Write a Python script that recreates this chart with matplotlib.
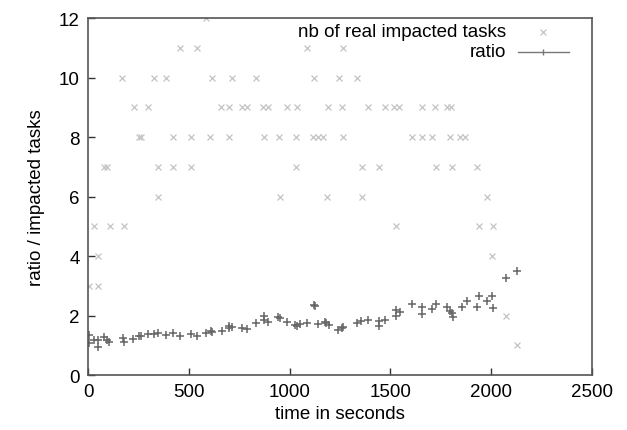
import matplotlib
matplotlib.use('Agg')
import matplotlib.pyplot as plt
from matplotlib.lines import Line2D

plt.rcParams['font.family'] = ['Liberation Sans', 'DejaVu Sans']

# nb of real impacted tasks (x marks)
tasks_t = [585,
           456, 540, 1087, 1264,
           170, 328, 385, 614, 716, 831, 1121, 1245, 1333,
           227, 298, 660, 700, 766, 787, 870, 893, 985, 1037, 1192, 1258, 1390, 1474, 1520, 1543, 1657, 1721, 1779, 1800,
           253, 263, 421, 510, 603, 700, 873, 945, 1030, 1116, 1141, 1166, 1264, 1607, 1657, 1706, 1796, 1845, 1870,
           78, 94, 347, 421, 510, 1030, 1358, 1443, 1726, 1806, 1929,
           347, 953, 1185, 1358, 1979,
           31, 107, 180, 1526, 1937, 2010,
           48, 2003,
           7, 48,
           2073,
           2128]
tasks_v = [12,
           11, 11, 11, 11,
           10, 10, 10, 10, 10, 10, 10, 10, 10,
           9, 9, 9, 9, 9, 9, 9, 9, 9, 9, 9, 9, 9, 9, 9, 9, 9, 9, 9, 9,
           8, 8, 8, 8, 8, 8, 8, 8, 8, 8, 8, 8, 8, 8, 8, 8, 8, 8, 8,
           7, 7, 7, 7, 7, 7, 7, 7, 7, 7, 7,
           6, 6, 6, 6, 6,
           5, 5, 5, 5, 5, 5,
           4, 4,
           3, 3,
           2,
           1]

# ratio (+ marks)
ratio_t = [7, 7, 31, 48, 48, 81, 96, 106, 172, 180, 225, 255, 263, 299, 329, 349, 385, 420,
           456, 509, 539, 584, 609, 617, 663, 701, 701, 716, 762, 787, 832, 875, 875, 895,
           944, 950, 989, 1027, 1035, 1052, 1088, 1121, 1125, 1143, 1176, 1180, 1195, 1238,
           1258, 1263, 1333, 1354, 1391, 1443, 1443, 1473, 1526, 1526, 1548, 1609, 1659,
           1659, 1705, 1725, 1779, 1796, 1804, 1808, 1853, 1878, 1928, 1940, 1981, 2006,
           2011, 2072, 2126]
ratio_v = [1.34, 1.08, 1.19, 1.17, 0.95, 1.29, 1.19, 1.10, 1.23, 1.12, 1.21, 1.32, 1.32, 1.38,
           1.37, 1.42, 1.36, 1.42, 1.30, 1.39, 1.32, 1.41, 1.48, 1.45, 1.49, 1.66, 1.59, 1.62,
           1.59, 1.55, 1.75, 1.97, 1.86, 1.77, 1.94, 1.91, 1.77, 1.68, 1.66, 1.70, 1.74, 2.35,
           2.33, 1.70, 1.79, 1.75, 1.68, 1.52, 1.57, 1.60, 1.74, 1.83, 1.84, 1.81, 1.66, 1.84,
           2.20, 2.00, 2.12, 2.39, 2.27, 2.04, 2.21, 2.39, 2.30, 2.16, 2.09, 1.96, 2.30, 2.48,
           2.30, 2.67, 2.49, 2.64, 2.25, 3.25, 3.49]

x_ticks = [0, 500, 1000, 1500, 2000, 2500]
y_ticks = [0, 2, 4, 6, 8, 10, 12]

light = '#c4c4c4'
dark = '#666666'
fs = 13.5

fig = plt.figure(figsize=(6.27, 4.31), dpi=100)
ax = fig.add_axes([0.1404, 0.1276, 0.8038, 0.8283])

ax.plot(tasks_t, tasks_v, linestyle='none', marker='x', markersize=4.2,
        markeredgewidth=0.9, color=light)
ax.plot(ratio_t, ratio_v, linestyle='none', marker='+', markersize=6,
        markeredgewidth=1.1, color=dark)

ax.set_xlim(0, 2500)
ax.set_ylim(0, 12)
ax.set_xticks(x_ticks)
ax.set_yticks(y_ticks)
ax.tick_params(direction='in', length=5, width=1, labelsize=fs, pad=6,
               colors='#333333', labelcolor='black')
ax.tick_params(axis='y', pad=6)
for s in ax.spines.values():
    s.set_color('#555555')
    s.set_linewidth(1.2)

ax.set_xlabel('time in seconds', fontsize=fs, labelpad=3)
ax.set_ylabel('ratio / impacted tasks', fontsize=fs, labelpad=10)

# gnuplot style key, text right aligned
ax.text(0.829, 0.961, 'nb of real impacted tasks', transform=ax.transAxes,
        ha='right', va='center', fontsize=fs)
ax.text(0.829, 0.905, 'ratio', transform=ax.transAxes,
        ha='right', va='center', fontsize=fs)
ax.add_line(Line2D([0.903], [0.961], transform=ax.transAxes, linestyle='none',
                   marker='x', markersize=4.2, markeredgewidth=0.9, color=light))
ax.add_line(Line2D([0.853, 0.954], [0.905, 0.905], transform=ax.transAxes,
                   color='#777777', linewidth=1))
ax.add_line(Line2D([0.903], [0.905], transform=ax.transAxes, linestyle='none',
                   marker='|', markersize=4, markeredgewidth=1, color='#777777'))

fig.savefig('out.png', dpi=100)
